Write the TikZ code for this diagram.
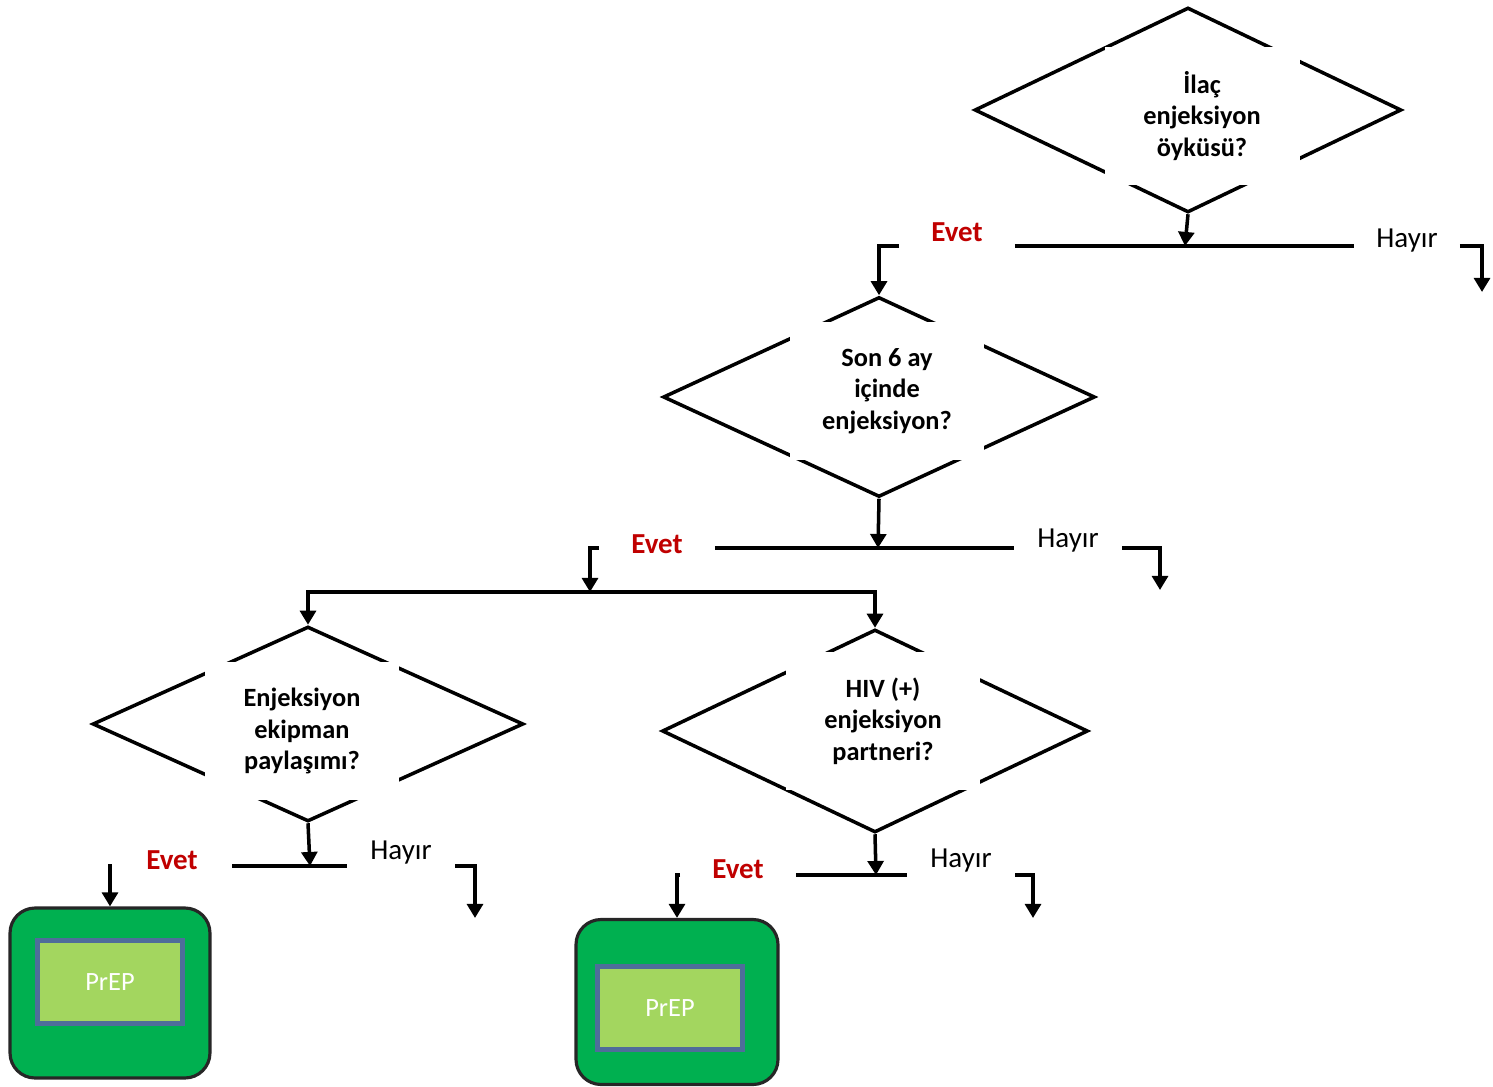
\documentclass[tikz,border=0pt]{standalone}
\usepackage{fontspec}
\setmainfont{Carlito}
\usetikzlibrary{positioning, arrows.meta, shapes.geometric}
\definecolor{evetred}{HTML}{C00000}
\definecolor{prepgreen}{HTML}{00B050}
\definecolor{preplight}{HTML}{A3D65F}
\definecolor{prepedge}{HTML}{4F6D9A}

\begin{document}
\begin{tikzpicture}[x=0.02cm, y=-0.02cm, >={Triangle[width=9pt, length=8pt]},
	font=\fontsize{16.5}{18}\selectfont,
	karar/.style={draw, diamond, line width=2pt, inner sep=0pt},
	soru/.style={fill=white, align=center, font=\fontsize{15}{18}\selectfont\bfseries,
		minimum width=3.9cm, minimum height=2.76cm},
	evet/.style={fill=white, text=evetred, font=\fontsize{16.5}{18}\selectfont\bfseries, minimum height=0.9cm},
	hayir/.style={fill=white, minimum height=0.9cm},
	hat/.style={line width=2pt},
	dis/.style={draw=black!85, fill=prepgreen, line width=1.8pt, rounded corners=0.5cm},
	ic/.style={draw=prepedge, fill=preplight, line width=2.6pt, text=white,
		font=\fontsize{15}{18}\selectfont, minimum width=2.9cm, minimum height=1.66cm}]
	\useasboundingbox (0,0) rectangle (1493,1087);

	% decisions
	\node[karar, minimum width=8.54cm, minimum height=4.1cm] (ilac) at (1188,110) {};
	\node[soru] (ilacT) at (1202,116) {İlaç\\enjeksiyon\\öyküsü?};
	\node[karar, minimum width=8.64cm, minimum height=4.0cm] (son6) at (879,397) {};
	\node[soru] (son6T) at (887,391) {Son 6 ay\\içinde\\enjeksiyon?};
	\node[karar, minimum width=8.62cm, minimum height=3.9cm] (ekip) at (308,724) {};
	\node[soru] (ekipT) at (302,731) {Enjeksiyon\\ekipman\\paylaşımı?};
	\node[karar, minimum width=8.52cm, minimum height=4.06cm] (hivp) at (875,731) {};
	\node[soru] (hivpT) at (883,721) {HIV (+)\\enjeksiyon\\partneri?};

	% answers
	\node[evet, minimum width=2.3cm] (e1) at (957,232) {Evet};
	\node[hayir, minimum width=2.1cm] (h1) at (1407,241) {Hayır};
	\node[evet, minimum width=2.3cm] (e2) at (657,544) {Evet};
	\node[hayir, minimum width=2.15cm] (h2) at (1068,541) {Hayır};
	\node[evet, minimum width=2.4cm] (e3) at (172,860) {Evet};
	\node[hayir, minimum width=2.15cm] (h3) at (401,853) {Hayır};
	\node[evet, minimum width=2.3cm] (e4) at (738,869) {Evet};
	\node[hayir, minimum width=2.15cm] (h4) at (961,861) {Hayır};

	% PrEP
	\node[dis, minimum width=4cm, minimum height=3.4cm] (prep1) at (110,993) {};
	\node[ic] (prep1T) at (110,982) {PrEP};
	\node[dis, minimum width=4.04cm, minimum height=3.3cm] (prep2) at (677,1002) {};
	\node[ic] (prep2T) at (670,1008) {PrEP};

	\coordinate (j1) at (1185,246);
	\coordinate (j2) at (878,548);
	\coordinate (j3) at (310,866);
	\coordinate (j4) at (876,875);
	\coordinate (sp) at (590,592);
	\coordinate (x1) at (1482,292);
	\coordinate (x2) at (1160,590);
	\coordinate (x3) at (475,918);
	\coordinate (x4) at (1033,918);

	\draw[hat, ->] (ilac.south) -- (j1);
	\draw[hat] (e1.east |- j1) -- (h1.west |- j1);
	\draw[hat, ->] (e1.west |- j1) -| (son6.north);
	\draw[hat, ->] (h1.east |- j1) -| (x1);

	\draw[hat, ->] (son6.south) -- (j2);
	\draw[hat] (e2.east |- j2) -- (h2.west |- j2);
	\draw[hat, ->] (e2.west |- j2) -| (sp);
	\draw[hat, ->] (h2.east |- j2) -| (x2);
	\draw[hat, ->] (sp) -| (ekip.north);
	\draw[hat, ->] (sp) -| (hivp.north);

	\draw[hat, ->] (ekip.south) -- (j3);
	\draw[hat] (e3.east |- j3) -- (h3.west |- j3);
	\draw[hat, ->] (e3.west |- j3) -| (prep1.north);
	\draw[hat, ->] (h3.east |- j3) -| (x3);

	\draw[hat, ->] (hivp.south) -- (j4);
	\draw[hat] (e4.east |- j4) -- (h4.west |- j4);
	\draw[hat, ->] (e4.west |- j4) -| (prep2.north);
	\draw[hat, ->] (h4.east |- j4) -| (x4);
\end{tikzpicture}
\end{document}
